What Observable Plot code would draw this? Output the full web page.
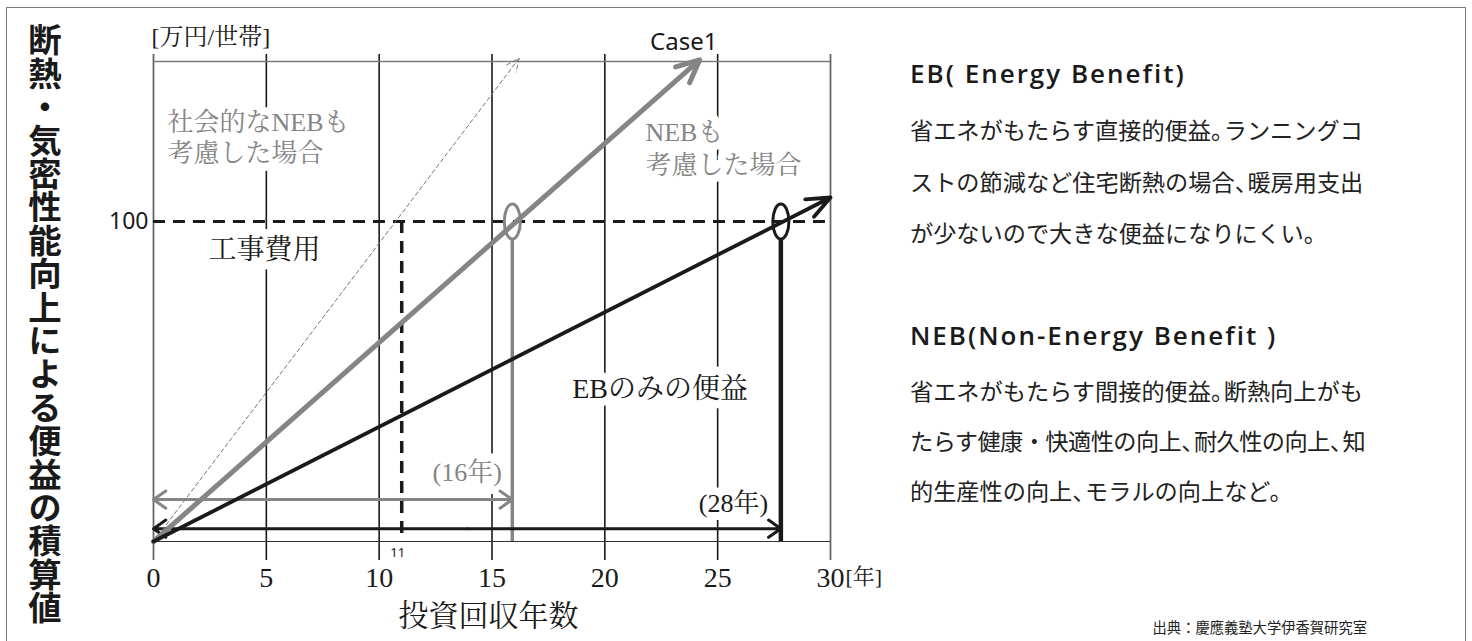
<!DOCTYPE html>
<html>
<head>
<meta charset="utf-8">
<script src="https://cdn.jsdelivr.net/npm/d3@7"></script>
<script src="https://cdn.jsdelivr.net/npm/@observablehq/plot@0.6"></script>
<style>
html, body { margin: 0; padding: 0; background: #fff; }
#wrap { position: relative; width: 1472px; height: 641px; overflow: hidden; background: #fff; }
#frame { position: absolute; left: 6px; top: 7px; width: 1460px; height: 700px; border: 1.5px solid #7a7a7a; box-sizing: border-box; }
#chart { position: absolute; left: 0; top: 0; }
.ytitle { position: absolute; left: 28px; top: 23px; writing-mode: vertical-rl; font-family: "Noto Sans CJK JP", sans-serif; font-weight: 700; font-size: 33.4px; line-height: 1; color: #1a1a1a; letter-spacing: 0; }
.head { position: absolute; left: 910px; font-family: "Open Sans", "Noto Sans CJK JP", sans-serif; font-weight: 600; font-size: 26px; line-height: 40px; color: #1a1a1a; white-space: nowrap; letter-spacing: 2px; }
.body { position: absolute; left: 910px; font-family: "Noto Sans CJK JP", sans-serif; font-size: 23.2px; color: #222; white-space: nowrap; }
.p { letter-spacing: -0.45em; }
.tight { letter-spacing: -0.55px; }
.src { position: absolute; right: 105px; top: 617px; font-family: "Noto Sans CJK JP", sans-serif; font-size: 14.3px; line-height: 20px; color: #222; white-space: nowrap; }
</style>
</head>
<body>
<div id="wrap">
  <div id="frame"></div>
  <div id="chart"></div>
  <div class="ytitle">断熱・気密性能向上による便益の積算値</div>
  <div class="head" style="top:53px">EB( Energy Benefit)</div>
  <div class="body" style="top:104px; line-height:51.5px">省エネがもたらす直接的便益<span class="p">。</span>ランニングコ<br>ストの節減など住宅断熱の場合<span class="p">、</span>暖房用支出<br>が少ないので大きな便益になりにくい。</div>
  <div class="head" style="top:315px">NEB(Non-Energy Benefit )</div>
  <div class="body" style="top:365px; line-height:50px">省エネがもたらす間接的便益<span class="p">。</span>断熱向上がも<br><span class="tight">たらす健康・快適性の向上<span class="p">、</span>耐久性の向上<span class="p">、</span>知</span><br>的生産性の向上<span class="p">、</span>モラルの向上など。</div>
  <div class="src">出典：慶應義塾大学伊香賀研究室</div>
</div>
<script>
// ---- data ----
const xTicks = [0, 5, 10, 15, 20, 25, 30];
const yTicks = [100];
const yMax = 150;
const costValue = 100;                       // 工事費用 [万円/世帯]
const series = ["EBのみ", "NEBも考慮", "社会的なNEBも考慮"];
const endYear = [30, 24.2, 16.2];            // arrow tip year
const endValue = [107.5, 150.5, 151];        // arrow tip cumulative benefit
const paybackYear = [27.8, 15.9, 11];        // crossing of 100
const paybackLabel = ["(28年)", "(16年)", "11"];

const lines = series.map((name, i) => ({name, x1: 0, y1: 0, x2: endYear[i], y2: endValue[i], payback: paybackYear[i]}));

const serif = '"Liberation Serif", "Noto Serif CJK JP", "Noto Sans CJK JP", serif';
const sans = '"Noto Sans", "Noto Sans CJK JP", sans-serif';
const GRAY = "#858585";
const BLACK = "#1a1a1a";

const ellipse = {
  draw(ctx, size) {
    const r = Math.sqrt(size / Math.PI);
    const rx = r * 0.46, ry = r, k = 0.5523;
    ctx.moveTo(rx, 0);
    ctx.bezierCurveTo(rx, ry * k, rx * k, ry, 0, ry);
    ctx.bezierCurveTo(-rx * k, ry, -rx, ry * k, -rx, 0);
    ctx.bezierCurveTo(-rx, -ry * k, -rx * k, -ry, 0, -ry);
    ctx.bezierCurveTo(rx * k, -ry, rx, -ry * k, rx, 0);
    ctx.closePath();
  }
};

const halo = {stroke: "white", strokeWidth: 16, paintOrder: "stroke", strokeLinejoin: "round"};

const chart = Plot.plot({
  width: 1472,
  height: 641,
  marginLeft: 153,
  marginRight: 642,
  marginTop: 61,
  marginBottom: 100,
  x: {domain: [0, 30], axis: null},
  y: {domain: [0, yMax], axis: null},
  style: {background: "transparent", overflow: "visible"},
  marks: [
    // grid
    Plot.ruleX(xTicks.filter(d => d > 0 && d < 30), {x: d => d, stroke: BLACK, strokeWidth: 1.6, insetTop: -7, insetBottom: -19}),
    Plot.ruleX([xTicks[0], xTicks[xTicks.length - 1]], {x: d => d, stroke: "#666", strokeWidth: 1.8, insetTop: -7, insetBottom: -19}),
    Plot.ruleY([yMax], {y: d => d, stroke: "#7a7a7a", strokeWidth: 1.5}),
    Plot.ruleY([0], {y: d => d, stroke: "#333", strokeWidth: 1.2}),

    // annotations with white background
    Plot.text(["社会的なNEBも\n考慮した場合"], {text: d => d, x: () => 0.62, y: () => 126.5, textAnchor: "start", lineAnchor: "middle", lineHeight: 1.18, fontSize: 26, fontFamily: serif, fill: GRAY, ...halo}),
    Plot.text(["NEBも\n考慮した場合"], {text: d => d, x: () => 21.8, y: () => 123.3, textAnchor: "start", lineAnchor: "middle", lineHeight: 1.25, fontSize: 26, fontFamily: serif, fill: GRAY, ...halo}),
    Plot.text(["工事費用"], {text: d => d, x: () => 4.92, y: () => 91, lineAnchor: "middle", fontSize: 28, fontFamily: serif, fill: BLACK, ...halo}),
    Plot.text(["EBのみの便益"], {text: d => d, x: () => 22.45, y: () => 47.6, lineAnchor: "middle", fontSize: 28, fontFamily: serif, fill: BLACK, ...halo}),
    Plot.text([paybackLabel[1]], {text: d => d, x: () => 13.9, y: () => 21.6, lineAnchor: "middle", fontSize: 26, fontFamily: serif, fill: GRAY, ...halo}),
    Plot.text([paybackLabel[0]], {text: d => d, x: () => 25.7, y: () => 11.9, lineAnchor: "middle", fontSize: 26, fontFamily: serif, fill: BLACK, ...halo}),

    // cost line and payback verticals
    Plot.ruleY([costValue], {y: d => d, stroke: BLACK, strokeWidth: 3, strokeDasharray: "12,8"}),
    Plot.ruleX([lines[2]], {x: "payback", y1: () => costValue, y2: () => 0, stroke: BLACK, strokeWidth: 3.5, strokeDasharray: "12,8"}),
    Plot.ruleX([lines[1]], {x: "payback", y1: () => costValue, y2: () => 0, insetTop: 18, stroke: GRAY, strokeWidth: 3.5}),
    Plot.ruleX([lines[0]], {x: "payback", y1: () => costValue, y2: () => 0, insetTop: 19, stroke: BLACK, strokeWidth: 4.5}),

    // payback-period double arrows
    Plot.arrow([lines[1]], {x1: d => d.payback / 2, x2: "payback", y1: () => 13.1, y2: () => 13.1, stroke: GRAY, strokeWidth: 3, headLength: 7.5, headAngle: 70}),
    Plot.arrow([lines[1]], {x1: d => d.payback / 2, x2: () => 0, y1: () => 13.1, y2: () => 13.1, stroke: GRAY, strokeWidth: 3, headLength: 7.5, headAngle: 70}),
    Plot.arrow([lines[0]], {x1: d => d.payback / 2, x2: "payback", y1: () => 4, y2: () => 4, stroke: BLACK, strokeWidth: 3, headLength: 7.5, headAngle: 70}),
    Plot.arrow([lines[0]], {x1: d => d.payback / 2, x2: () => 0, y1: () => 4, y2: () => 4, stroke: BLACK, strokeWidth: 3, headLength: 7.5, headAngle: 70}),

    // cumulative benefit lines
    Plot.arrow([lines[2]], {x1: "x1", y1: "y1", x2: "x2", y2: "y2", stroke: "#777", strokeWidth: 1, strokeDasharray: "4,3", headLength: 21, headAngle: 50}),
    Plot.arrow([lines[1]], {x1: "x1", y1: "y1", x2: "x2", y2: "y2", stroke: GRAY, strokeWidth: 5, headLength: 7.5, headAngle: 50}),
    Plot.arrow([lines[0]], {x1: "x1", y1: "y1", x2: "x2", y2: "y2", stroke: BLACK, strokeWidth: 3.8, headLength: 10, headAngle: 45}),

    // ellipses at crossings
    Plot.dot([lines[1]], {x: "payback", y: () => costValue, r: 17.5, symbol: ellipse, stroke: GRAY, strokeWidth: 3, fill: "none"}),
    Plot.dot([lines[0]], {x: "payback", y: () => costValue, r: 17.5, symbol: ellipse, stroke: BLACK, strokeWidth: 3, fill: "none"}),

    // axes labels
    Plot.text(xTicks, {x: d => d, text: d => String(d), frameAnchor: "bottom", dy: 37, lineAnchor: "middle", fontSize: 28, fontFamily: serif, fill: BLACK}),
    Plot.text(["[年]"], {x: () => 30, text: d => d, frameAnchor: "bottom", dy: 35, dx: 15, textAnchor: "start", lineAnchor: "middle", fontSize: 22, fontFamily: serif, fill: BLACK}),
    Plot.text([lines[2]], {x: "payback", text: () => paybackLabel[2], frameAnchor: "bottom", dy: 11, dx: -4, lineAnchor: "middle", fontSize: 13, fontFamily: sans, fill: BLACK}),
    Plot.text(yTicks, {y: d => d, text: d => String(d), frameAnchor: "left", dx: -5, textAnchor: "end", lineAnchor: "middle", fontSize: 23, fontFamily: sans, fill: BLACK}),
    Plot.text(["[万円/世帯]"], {text: d => d, frameAnchor: "top-left", dy: -24, dx: -2, textAnchor: "start", lineAnchor: "middle", fontSize: 24, fontFamily: serif, fill: BLACK}),
    Plot.text(["Case1"], {text: d => d, x: () => 23.5, frameAnchor: "top", dy: -19, lineAnchor: "middle", fontSize: 24, fontFamily: sans, fill: BLACK}),
    Plot.text(["投資回収年数"], {text: d => d, x: () => 14.85, frameAnchor: "bottom", dy: 75, lineAnchor: "middle", fontSize: 30, fontFamily: serif, fill: BLACK})
  ]
});
document.getElementById("chart").appendChild(chart);
</script>
</body>
</html>
